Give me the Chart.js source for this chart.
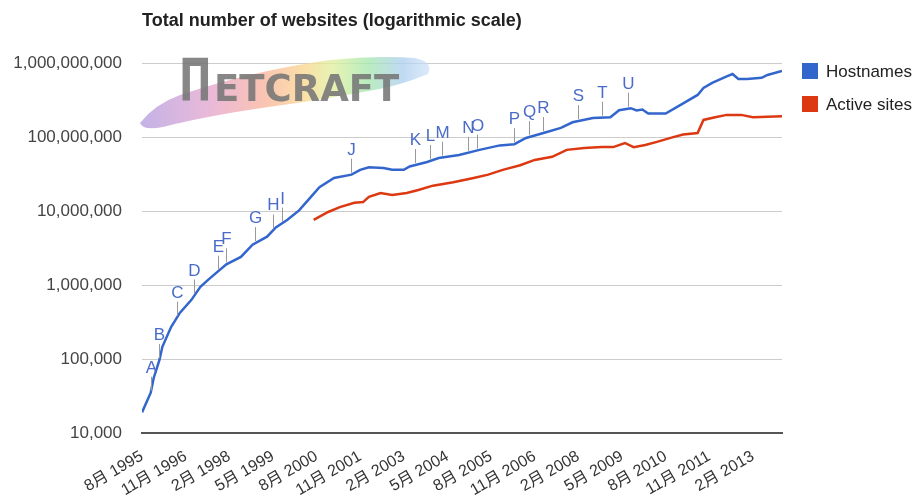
<!DOCTYPE html>
<html>
<head>
<meta charset="utf-8">
<script src="https://cdn.jsdelivr.net/npm/chart.js@4.4.0/dist/chart.umd.min.js"></script>
<style>
    html, body { margin: 0; padding: 0; background: #fff; }
    #wrap { width: 920px; height: 499px; }
</style>
</head>
<body>
<div id="wrap"><canvas id="sitesChart"></canvas></div>
<script>
// Netcraft web server survey (log scale)
const hostMonths = ['1995-08', '1995-11', '1995-12', '1996-02', '1996-03', '1996-06', '1996-09', '1997-01',
    '1997-04', '1997-07', '1998-01', '1998-06', '1998-10', '1999-03', '1999-06', '1999-10', '2000-02',
    '2000-06', '2000-09', '2001-02', '2001-08', '2001-11', '2002-02', '2002-07', '2002-10', '2003-02',
    '2003-04', '2003-10', '2004-02', '2004-09', '2005-04', '2005-11', '2006-04', '2006-08', '2007-02',
    '2007-08', '2007-12', '2008-07', '2009-01', '2009-04', '2009-08', '2009-10', '2009-12', '2010-02',
    '2010-08', '2011-01', '2011-07', '2011-09', '2011-12', '2012-05', '2012-07', '2012-09', '2012-12',
    '2013-05', '2013-07', '2013-12'];
const hostValues = [19000, 35000, 55000, 97000, 146000, 270000, 420000, 630000,
    940000, 1200000, 1900000, 2400000, 3500000, 4500000, 6000000, 7600000, 10200000,
    15400000, 21000000, 28000000, 31000000, 36000000, 39000000, 38000000, 36000000, 36000000,
    40000000, 46000000, 52000000, 57000000, 67000000, 77000000, 80000000, 97000000, 113000000,
    133000000, 158000000, 180000000, 185000000, 230000000, 245000000, 228000000, 235000000, 208000000,
    208000000, 270000000, 370000000, 460000000, 540000000, 660000000, 710000000, 610000000, 610000000,
    630000000, 690000000, 780000000];

const activeMonths = ['2000-07', '2000-12', '2001-04', '2001-09', '2001-12', '2002-02', '2002-06', '2002-10',
    '2003-03', '2003-07', '2003-12', '2004-07', '2005-02', '2005-07', '2005-12', '2006-06', '2006-11',
    '2007-05', '2007-10', '2008-04', '2008-10', '2009-02', '2009-06', '2009-09', '2010-01', '2010-05',
    '2010-10', '2011-02', '2011-07', '2011-09', '2012-01', '2012-05', '2012-10', '2013-02', '2013-12'];
const activeValues = [7600000, 9700000, 11300000, 12900000, 13200000, 15500000, 17500000, 16500000,
    17500000, 19200000, 22000000, 24500000, 28000000, 31000000, 36000000, 41500000, 49000000,
    54000000, 67000000, 71000000, 73000000, 73000000, 83000000, 73000000, 78000000, 86000000,
    98000000, 108000000, 113000000, 170000000, 185000000, 199000000, 199000000, 185000000, 190000000];

const yTicks = [10000, 100000, 1000000, 10000000, 100000000, 1000000000];
const xTickMonths = ['1995-08', '1996-11', '1998-02', '1999-05', '2000-08', '2001-11', '2003-02', '2004-05',
    '2005-08', '2006-11', '2008-02', '2009-05', '2010-08', '2011-11', '2013-02'];
const xRange = ['1995-08', '2013-12'];

// milestone letters on the hostnames line
const markerLetters = ['A', 'B', 'C', 'D', 'E', 'F', 'G', 'H', 'I', 'J', 'K', 'L', 'M', 'N', 'O', 'P', 'Q', 'R', 'S', 'T', 'U'];
const markerMonths = ['1995-11', '1996-02', '1996-08', '1997-02', '1997-10', '1998-01', '1998-11', '1999-05',
    '1999-08', '2001-08', '2003-06', '2003-11', '2004-03', '2004-12', '2005-03', '2006-04', '2006-09',
    '2007-02', '2008-02', '2008-10', '2009-07'];

const BLUE = '#3366cc';
const RED = '#dc3912';
const FONT = '"Liberation Sans", Arial, "Noto Sans CJK JP", sans-serif';

function monthIndex(s) {
    const [y, m] = s.split('-').map(Number);
    return (y - 1995) * 12 + (m - 8);
}

function monthLabel(idx) {
    const total = idx + 7;
    const year = 1995 + Math.floor(total / 12);
    const month = (total % 12) + 1;
    return month + '月 ' + year;
}

function toPoints(months, values) {
    return months.map((m, i) => ({ x: monthIndex(m), y: values[i] }));
}

// log interpolation along the hostnames series
function hostValueAt(idx) {
    const xs = hostMonths.map(monthIndex);
    for (let i = 1; i < xs.length; i++) {
        if (idx <= xs[i]) {
            const t = (idx - xs[i - 1]) / (xs[i] - xs[i - 1]);
            const a = Math.log10(hostValues[i - 1]), b = Math.log10(hostValues[i]);
            return Math.pow(10, a + (b - a) * t);
        }
    }
    return hostValues[hostValues.length - 1];
}

const decorPlugin = {
    id: 'decor',
    beforeDatasetsDraw(chart) {
        const ctx = chart.ctx;
        ctx.save();
        // rainbow brush stroke of the logo
        const g = ctx.createLinearGradient(140, 0, 432, 0);
        g.addColorStop(0, 'rgba(180,160,225,0.8)');
        g.addColorStop(0.25, 'rgba(230,168,205,0.8)');
        g.addColorStop(0.42, 'rgba(248,180,160,0.8)');
        g.addColorStop(0.56, 'rgba(250,215,145,0.8)');
        g.addColorStop(0.66, 'rgba(225,240,160,0.8)');
        g.addColorStop(0.78, 'rgba(168,232,176,0.8)');
        g.addColorStop(0.9, 'rgba(176,208,240,0.8)');
        g.addColorStop(1, 'rgba(200,222,248,0.6)');
        ctx.fillStyle = g;
        ctx.beginPath();
        ctx.moveTo(140, 123);
        ctx.quadraticCurveTo(155, 104, 180, 95);
        ctx.quadraticCurveTo(225, 80, 263, 72);
        ctx.quadraticCurveTo(300, 64, 330, 60);
        ctx.quadraticCurveTo(380, 55, 415, 58);
        ctx.quadraticCurveTo(434, 62, 428, 74);
        ctx.quadraticCurveTo(400, 86, 363, 92);
        ctx.quadraticCurveTo(330, 98, 297, 103);
        ctx.quadraticCurveTo(260, 108, 230, 113);
        ctx.quadraticCurveTo(190, 120, 163, 127);
        ctx.quadraticCurveTo(143, 131, 140, 123);
        ctx.closePath();
        ctx.fill();
        // logo lettering
        ctx.fillStyle = 'rgba(118,118,118,0.88)';
        ctx.textBaseline = 'alphabetic';
        ctx.textAlign = 'left';
        ctx.font = 'bold 37px "DejaVu Sans"';
        ctx.fillText('ETCRAFT', 214, 101);
        ctx.save();
        ctx.translate(179, 101);
        ctx.scale(0.66, 1);
        ctx.font = 'bold 59px "DejaVu Sans"';
        ctx.fillText('Π', 0, 0);
        ctx.restore();
        ctx.restore();
    },
    afterDatasetsDraw(chart) {
        const ctx = chart.ctx;
        const xs = chart.scales.x, ys = chart.scales.y;
        ctx.save();
        ctx.font = '17px ' + FONT;
        ctx.textAlign = 'center';
        ctx.textBaseline = 'alphabetic';
        markerLetters.forEach((letter, i) => {
            const idx = monthIndex(markerMonths[i]);
            const px = Math.round(xs.getPixelForValue(idx)) + 0.5;
            const py = ys.getPixelForValue(hostValueAt(idx));
            ctx.strokeStyle = '#999';
            ctx.lineWidth = 1;
            ctx.beginPath();
            ctx.moveTo(px, py - 2);
            ctx.lineTo(px, py - 16);
            ctx.stroke();
            ctx.fillStyle = '#4a6cc8';
            ctx.fillText(letter, px, py - 20);
        });
        ctx.restore();
    },
    afterDraw(chart) {
        const ctx = chart.ctx;
        ctx.save();
        // title
        ctx.fillStyle = '#222';
        ctx.font = 'bold 18px ' + FONT;
        ctx.textAlign = 'left';
        ctx.textBaseline = 'middle';
        ctx.fillText('Total number of websites (logarithmic scale)', 142, 21);
        // legend
        const items = [['Hostnames', BLUE], ['Active sites', RED]];
        ctx.font = '17px ' + FONT;
        items.forEach((it, i) => {
            const y = 63 + i * 33;
            ctx.fillStyle = it[1];
            ctx.fillRect(802, y, 16, 16);
            ctx.fillStyle = '#222';
            ctx.fillText(it[0], 826, y + 9);
        });
        ctx.restore();
    }
};

new Chart(document.getElementById('sitesChart'), {
    type: 'line',
    data: {
        datasets: [
            {
                label: 'Hostnames',
                data: toPoints(hostMonths, hostValues),
                borderColor: BLUE,
                backgroundColor: BLUE,
                borderWidth: 2.5,
                pointRadius: 0,
                tension: 0
            },
            {
                label: 'Active sites',
                data: toPoints(activeMonths, activeValues),
                borderColor: RED,
                backgroundColor: RED,
                borderWidth: 2.5,
                pointRadius: 0,
                tension: 0
            }
        ]
    },
    options: {
        responsive: true,
        maintainAspectRatio: false,
        animation: false,
        layout: { padding: { top: 63, right: 138, left: 0, bottom: 0 } },
        plugins: {
            legend: { display: false },
            title: { display: false },
            tooltip: { enabled: false }
        },
        scales: {
            x: {
                type: 'linear',
                min: monthIndex(xRange[0]),
                max: monthIndex(xRange[1]),
                afterBuildTicks: s => { s.ticks = xTickMonths.map(m => ({ value: monthIndex(m) })); },
                afterFit: s => { s.height = 66; },
                grid: { display: false },
                border: { display: true, color: '#555', width: 2 },
                ticks: {
                    autoSkip: false,
                    minRotation: 30,
                    maxRotation: 30,
                    padding: 6,
                    color: '#333',
                    font: { size: 16, family: FONT },
                    callback: v => monthLabel(v)
                }
            },
            y: {
                type: 'logarithmic',
                min: yTicks[0],
                max: yTicks[yTicks.length - 1],
                afterBuildTicks: s => { s.ticks = yTicks.map(v => ({ value: v })); },
                afterFit: s => { s.width = 142; },
                border: { display: false },
                grid: { color: '#cccccc', drawTicks: false },
                ticks: {
                    padding: 20,
                    color: '#444',
                    font: { size: 17, family: FONT },
                    callback: v => Number(v).toLocaleString('en-US')
                }
            }
        }
    },
    plugins: [decorPlugin]
});
</script>
</body>
</html>
